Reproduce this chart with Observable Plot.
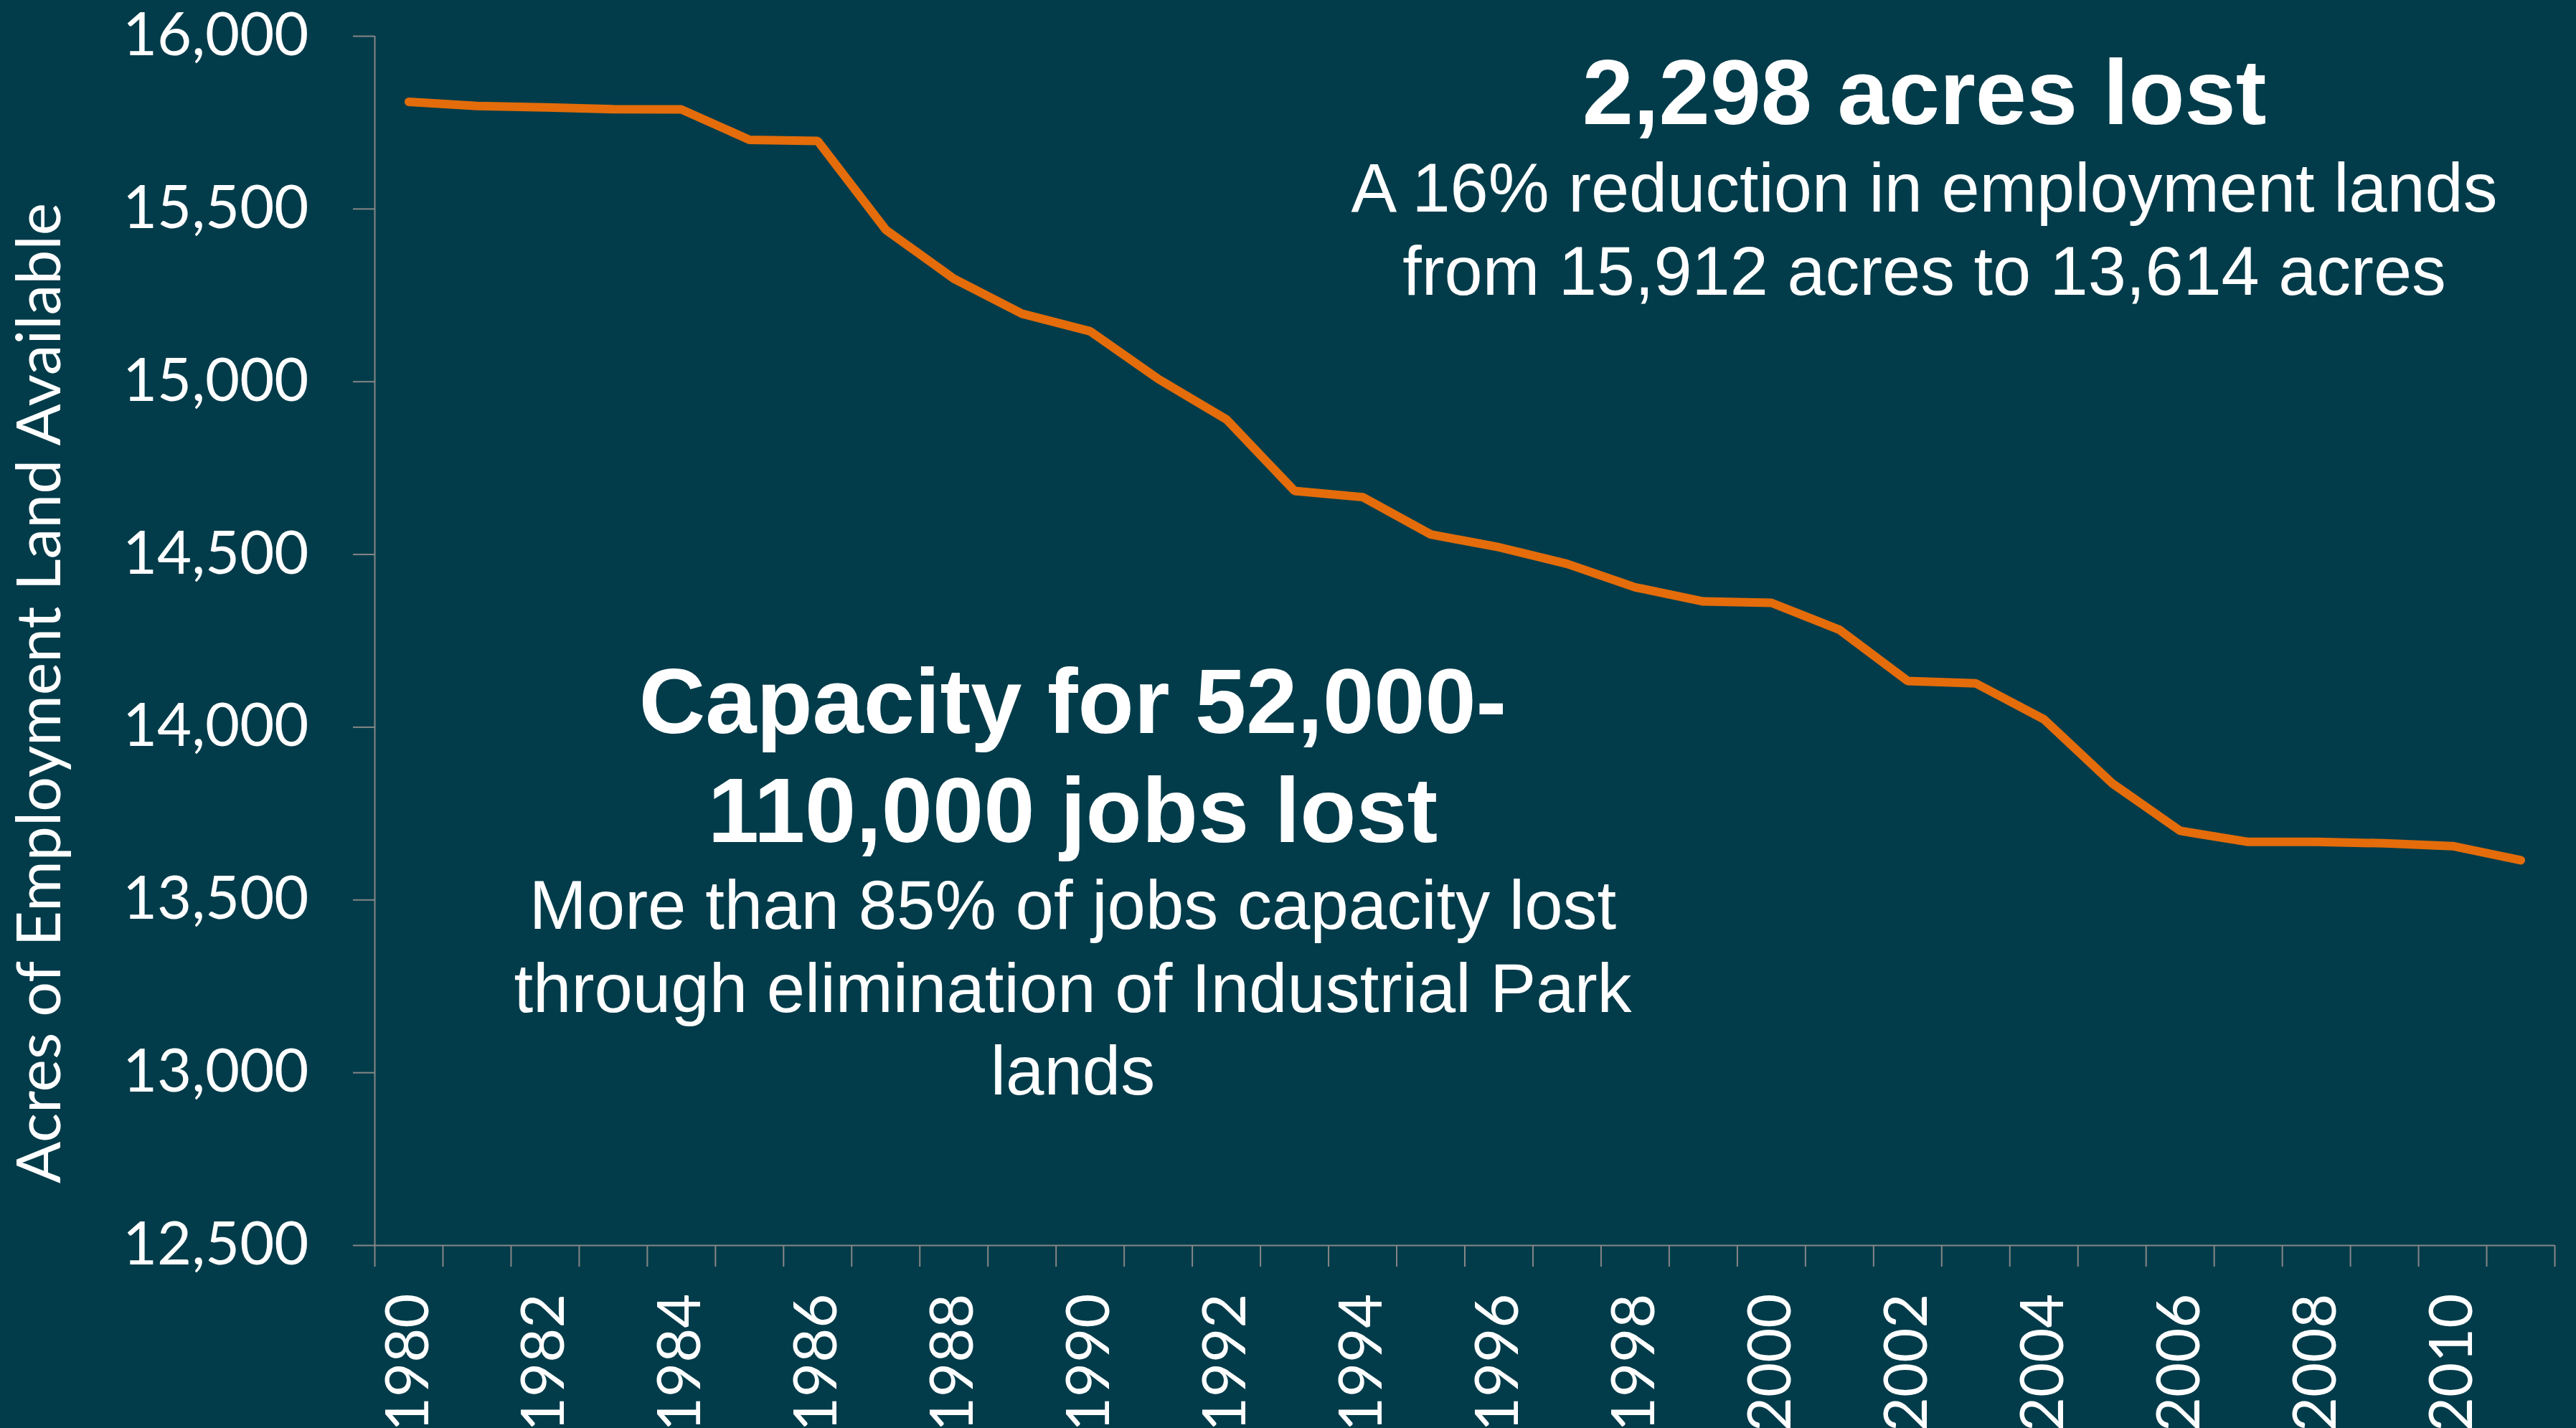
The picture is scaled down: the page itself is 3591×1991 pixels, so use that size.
<!DOCTYPE html>
<html>
<head>
<meta charset="utf-8">
<script src="https://cdn.jsdelivr.net/npm/d3@7"></script>
<script src="https://cdn.jsdelivr.net/npm/@observablehq/plot@0.6"></script>
<style>
  html, body { margin: 0; padding: 0; background: #023C4A; }
</style>
</head>
<body>
<div id="chart"></div>
<script>
// ---- Data ----
const years = [1980, 1981, 1982, 1983, 1984, 1985, 1986, 1987, 1988, 1989,
               1990, 1991, 1992, 1993, 1994, 1995, 1996, 1997, 1998, 1999,
               2000, 2001, 2002, 2003, 2004, 2005, 2006, 2007, 2008, 2009,
               2010, 2011];
const acres = [15810, 15798, 15794, 15789, 15788, 15700, 15697, 15440, 15298, 15197,
               15146, 15008, 14891, 14684, 14666, 14558, 14521, 14473, 14405, 14364,
               14360, 14282, 14134, 14127, 14023, 13838, 13700, 13668, 13668, 13664,
               13656, 13615];
const yTicks = [12500, 13000, 13500, 14000, 14500, 15000, 15500, 16000];
const xTickLabels = [1980, 1982, 1984, 1986, 1988, 1990, 1992, 1994, 1996, 1998,
                     2000, 2002, 2004, 2006, 2008, 2010];
const yTitle = "Acres of Employment Land Available";
const note1Title = "2,298 acres lost";
const note1Body = ["A 16% reduction in employment lands", "from 15,912 acres to 13,614 acres"];
const note2Title = ["Capacity for 52,000-", "110,000 jobs lost"];
const note2Body = ["More than 85% of jobs capacity lost", "through elimination of Industrial Park", "lands"];

const table = years.map((year, i) => ({year, acres: acres[i]}));
// band boundaries (category edges) for the x tick marks
const xBoundaries = [...years.map(y => y - 0.5), years[years.length - 1] + 0.5];

// ---- Style ----
const BG = "#023C4A";
const AXIS = "#868686";
const ORANGE = "#E46C0A";
const ANNOT_FONT = "'Liberation Sans', Arial, sans-serif";
const AXIS_FONT = "Lato, 'Open Sans', sans-serif";

const chart = Plot.plot({
  width: 3591,
  height: 1991,
  marginLeft: 522,
  marginRight: 30,
  marginTop: 50,
  marginBottom: 255,
  style: {background: BG, color: "white", fontFamily: AXIS_FONT, overflow: "visible"},
  x: {type: "linear", domain: [xBoundaries[0], xBoundaries[xBoundaries.length - 1]]},
  y: {domain: [12500, 16000]},
  marks: [
    // axis lines
    Plot.ruleX([xBoundaries[0]], {y1: 12500, y2: 16000, stroke: AXIS, strokeWidth: 2}),
    Plot.ruleY([12500], {stroke: AXIS, strokeWidth: 2}),
    // y axis
    Plot.axisY({
      ticks: yTicks, tickSize: 30, tickPadding: 62,
      tickFormat: d3.format(","), fontSize: 83, stroke: AXIS, strokeWidth: 2,
      fontFamily: AXIS_FONT, label: null
    }),
    // x axis: tick marks at category boundaries
    Plot.axisX({
      ticks: xBoundaries, tickSize: 30, tickFormat: () => "",
      stroke: AXIS, strokeWidth: 2, label: null
    }),
    // x axis: rotated year labels
    Plot.axisX({
      ticks: xTickLabels, tickSize: 0, tickRotate: -90, textAnchor: "end",
      tickPadding: 67, tickFormat: d => String(d), fontSize: 83,
      fontFamily: AXIS_FONT, label: null
    }),
    // y axis title
    Plot.text([yTitle], {
      text: d => d, frameAnchor: "left", dx: -439, dy: 73, rotate: -90,
      textAnchor: "middle", lineAnchor: "bottom", fontSize: 86,
      fontFamily: AXIS_FONT, fill: "white"
    }),
    // data line
    Plot.line(table, {
      x: "year", y: "acres", stroke: ORANGE, strokeWidth: 12,
      strokeLinecap: "round", strokeLinejoin: "miter"
    }),
    // annotations
    Plot.text([note1Title], {
      text: d => d, frameAnchor: "top-left", dx: 2160, dy: 122,
      textAnchor: "middle", lineAnchor: "bottom", fontSize: 128, fontWeight: "bold",
      fontFamily: ANNOT_FONT, fill: "white"
    }),
    Plot.text([note1Body.join("\n")], {
      text: d => d, frameAnchor: "top-left", dx: 2160, dy: 360,
      textAnchor: "middle", lineAnchor: "bottom", fontSize: 95.5, lineHeight: 1.21,
      fontFamily: ANNOT_FONT, fill: "white"
    }),
    Plot.text([note2Title.join("\n")], {
      text: d => d, frameAnchor: "top-left", dx: 973, dy: 1123,
      textAnchor: "middle", lineAnchor: "bottom", fontSize: 128, fontWeight: "bold",
      lineHeight: 1.1875, fontFamily: ANNOT_FONT, fill: "white"
    }),
    Plot.text([note2Body.join("\n")], {
      text: d => d, frameAnchor: "top-left", dx: 973, dy: 1475,
      textAnchor: "middle", lineAnchor: "bottom", fontSize: 96, lineHeight: 1.198,
      fontFamily: ANNOT_FONT, fill: "white"
    })
  ]
});

document.getElementById("chart").appendChild(chart);
</script>
</body>
</html>
